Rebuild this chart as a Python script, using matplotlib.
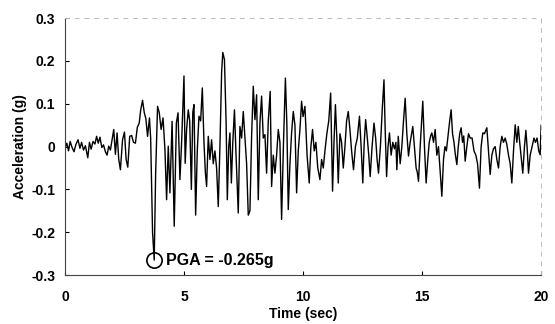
import matplotlib
matplotlib.use("Agg")
import matplotlib.pyplot as plt

# accelerogram (time in s, acceleration in g)
t_sec = [0.0, 0.08, 0.15, 0.22, 0.3, 0.38, 0.46, 0.55, 0.63, 0.7, 0.78, 0.86, 0.96, 1.03, 1.1,
         1.18, 1.26, 1.33, 1.4, 1.47, 1.55, 1.62, 1.7, 1.77, 1.84, 1.91, 1.98, 2.05, 2.12, 2.19,
         2.26, 2.33, 2.42, 2.5, 2.57, 2.64, 2.72, 2.8, 2.88, 2.96, 3.04, 3.12, 3.18, 3.26, 3.33,
         3.4, 3.47, 3.55, 3.6, 3.68, 3.75, 3.81, 3.89, 3.96, 4.04, 4.12, 4.2, 4.27, 4.34, 4.41,
         4.5, 4.59, 4.68, 4.75, 4.83, 4.9, 5.0, 5.05, 5.11, 5.18, 5.24, 5.31, 5.37, 5.42, 5.49,
         5.56, 5.63, 5.7, 5.77, 5.84, 5.9, 5.95, 6.02, 6.09, 6.16, 6.23, 6.3, 6.37, 6.44, 6.51,
         6.58, 6.63, 6.7, 6.77, 6.82, 6.88, 6.93, 6.99, 7.05, 7.12, 7.18, 7.28, 7.35, 7.42, 7.49,
         7.56, 7.63, 7.7, 7.77, 7.84, 7.91, 7.98, 8.05, 8.12, 8.19, 8.26, 8.33, 8.4, 8.47, 8.54,
         8.62, 8.68, 8.75, 8.82, 8.89, 8.96, 9.03, 9.1, 9.18, 9.26, 9.32, 9.38, 9.45, 9.52, 9.59,
         9.66, 9.73, 9.8, 9.87, 9.94, 10.0, 10.08, 10.17, 10.26, 10.33, 10.4, 10.47, 10.54, 10.62,
         10.71, 10.78, 10.85, 10.92, 11.0, 11.08, 11.16, 11.24, 11.3, 11.36, 11.42, 11.48, 11.55,
         11.62, 11.69, 11.76, 11.83, 11.9, 11.97, 12.04, 12.12, 12.2, 12.28, 12.37, 12.44, 12.51,
         12.57, 12.63, 12.7, 12.76, 12.82, 12.9, 12.98, 13.05, 13.11, 13.17, 13.25, 13.33, 13.4,
         13.45, 13.51, 13.57, 13.63, 13.7, 13.77, 13.84, 13.9, 13.94, 14.0, 14.08, 14.15, 14.22,
         14.29, 14.36, 14.43, 14.5, 14.56, 14.61, 14.68, 14.75, 14.8, 14.85, 14.92, 14.98, 15.03,
         15.1, 15.17, 15.24, 15.3, 15.36, 15.41, 15.48, 15.55, 15.62, 15.69, 15.76, 15.83, 15.9,
         15.96, 16.02, 16.1, 16.16, 16.22, 16.28, 16.34, 16.4, 16.46, 16.52, 16.58, 16.64, 16.7,
         16.75, 16.81, 16.88, 16.95, 17.02, 17.1, 17.18, 17.26, 17.33, 17.41, 17.48, 17.55, 17.62,
         17.72, 17.79, 17.86, 17.93, 18.0, 18.07, 18.14, 18.21, 18.28, 18.35, 18.42, 18.49, 18.56,
         18.63, 18.7, 18.77, 18.84, 18.91, 18.98, 19.04, 19.1, 19.17, 19.23, 19.3, 19.36, 19.41,
         19.47, 19.54, 19.62, 19.7, 19.76, 19.83, 19.9, 19.96, 20.0]
acc_g = [-0.005, 0.008, -0.010, 0.012, -0.002, -0.012, 0.005, 0.016, -0.004, 0.010, -0.008, 0.002,
         -0.026, 0.010, -0.006, 0.012, 0.006, 0.024, 0.008, 0.022, -0.002, 0.004, -0.012, -0.020,
         0.001, -0.008, 0.016, 0.040, -0.018, 0.032, -0.030, -0.054, 0.016, 0.034, -0.030, -0.048,
         0.024, 0.026, 0.010, 0.008, 0.045, 0.055, 0.085, 0.108, 0.080, 0.065, 0.024, 0.067, 0.020,
         -0.200, -0.265, -0.062, 0.094, 0.080, 0.040, 0.067, -0.007, -0.124, 0.001, -0.108, 0.059,
         -0.186, 0.055, 0.079, -0.077, 0.010, 0.165, -0.039, 0.040, 0.086, 0.060, -0.100, 0.080,
         0.098, -0.160, -0.007, 0.071, 0.060, 0.137, 0.009, -0.062, -0.093, 0.024, -0.030, 0.016,
         -0.040, -0.010, -0.050, -0.140, 0.001, 0.172, 0.220, 0.203, 0.055, -0.124, 0.000, 0.032,
         -0.085, 0.010, 0.086, -0.010, -0.155, 0.047, 0.020, 0.082, 0.020, -0.040, -0.160, -0.150,
         0.024, 0.141, 0.063, 0.121, -0.124, 0.055, 0.118, 0.020, 0.028, -0.062, 0.060, 0.129,
         -0.093, -0.020, -0.062, -0.020, 0.040, 0.010, -0.170, 0.010, 0.160, 0.055, -0.147, -0.040,
         0.032, 0.082, 0.050, -0.108, -0.010, 0.040, 0.106, 0.070, 0.094, -0.020, -0.085, 0.000,
         0.040, -0.010, 0.010, -0.050, -0.077, -0.030, -0.050, -0.010, 0.030, 0.060, 0.125, -0.104,
         0.010, 0.098, 0.020, -0.085, 0.030, 0.010, -0.050, 0.000, 0.060, 0.082, 0.040, -0.010,
         -0.054, 0.000, 0.020, 0.071, 0.000, -0.085, 0.010, 0.063, 0.020, -0.020, -0.070, 0.000,
         0.055, 0.020, -0.030, -0.062, 0.000, 0.090, 0.156, 0.040, -0.070, 0.000, 0.032, -0.020,
         0.010, -0.005, 0.010, -0.054, 0.024, -0.040, 0.000, 0.060, 0.113, 0.030, -0.022, 0.010,
         0.030, 0.047, 0.000, -0.050, -0.060, -0.081, 0.000, 0.060, 0.106, 0.000, -0.085, -0.030,
         0.010, 0.025, 0.032, 0.010, 0.040, -0.020, 0.000, -0.060, -0.116, -0.030, 0.000, -0.010,
         0.030, 0.060, 0.086, 0.030, 0.010, -0.020, -0.042, 0.000, 0.030, 0.044, 0.010, 0.025,
         -0.034, 0.000, 0.030, 0.020, 0.020, -0.010, -0.020, -0.040, -0.097, 0.000, 0.032, 0.030,
         0.044, -0.010, -0.065, -0.020, -0.005, 0.000, -0.030, -0.050, 0.000, 0.024, 0.010, 0.020,
         0.005, -0.020, -0.040, -0.085, -0.010, 0.051, 0.010, 0.047, 0.010, -0.030, -0.062, 0.000,
         0.038, 0.000, -0.062, -0.020, 0.000, 0.020, 0.010, 0.020, -0.010, -0.019, 0.050]

pga_time = 3.75
pga_value = -0.265
pga_label = "PGA = -0.265g"

x_ticks = [0, 5, 10, 15, 20]
y_ticks = [-0.3, -0.2, -0.1, 0, 0.1, 0.2, 0.3]
y_labels = ["-0.3", "-0.2", "-0.1", "0", "0.1", "0.2", "0.3"]

plt.rcParams['font.family'] = ['Liberation Sans', 'DejaVu Sans']

fig = plt.figure(figsize=(5.55, 3.24), dpi=100)
ax = fig.add_axes([0.117, 0.151, 0.858, 0.793])

ax.plot(t_sec, acc_g, color='black', lw=1.0)
ax.plot([pga_time], [pga_value], marker='o', ms=11, mfc='none', mec='black', mew=1.2)
ax.text(pga_time + 0.5, pga_value, pga_label, fontsize=11.5, fontweight='bold',
        ha='left', va='center')

ax.set_xlim(0, 20)
ax.set_ylim(-0.3, 0.3)
ax.set_xticks(x_ticks)
ax.set_yticks(y_ticks)
ax.set_yticklabels(y_labels)
ax.tick_params(direction='in', length=3, width=0.8, labelsize=10)
ax.tick_params(axis='x', pad=11)
ax.tick_params(axis='y', pad=7)
for lab in ax.get_xticklabels() + ax.get_yticklabels():
    lab.set_fontweight('bold')

ax.set_xlabel('Time (sec)', fontsize=10, fontweight='bold', labelpad=2)
ax.set_ylabel('Acceleration (g)', fontsize=10, fontweight='bold', labelpad=3)

for side in ['top', 'right']:
    ax.spines[side].set_color('#bbbbbb')
    ax.spines[side].set_linestyle((0, (4, 6)))
    ax.spines[side].set_linewidth(0.7)
for side in ['left', 'bottom']:
    ax.spines[side].set_color('#444444')
    ax.spines[side].set_linewidth(0.8)

fig.savefig('out.png', dpi=100)
